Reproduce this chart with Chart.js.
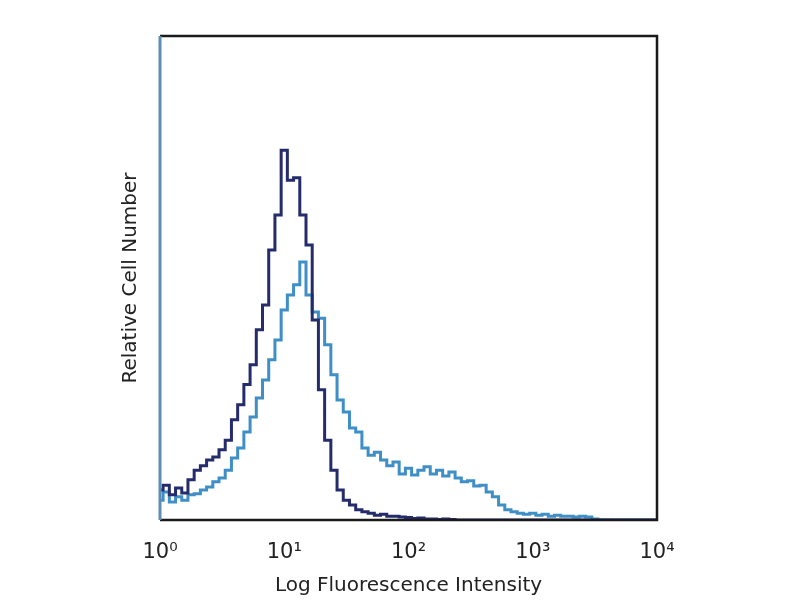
<!DOCTYPE html>
<html>
<head>
<meta charset="utf-8">
<script src="https://cdn.jsdelivr.net/npm/chart.js@4"></script>
<style>
  html, body { margin: 0; padding: 0; background: #fff; }
  #wrap { width: 800px; height: 600px; }
</style>
</head>
<body>
<div id="wrap"><canvas id="histo" width="800" height="600"></canvas></div>
<script>
// fluorescence channels, 20 per decade
const channels = [
  1.000, 1.122, 1.259, 1.413, 1.585, 1.778, 1.995, 2.239, 2.512, 2.818,
  3.162, 3.548, 3.981, 4.467, 5.012, 5.623, 6.310, 7.079, 7.943, 8.913,
  10.00, 11.22, 12.59, 14.13, 15.85, 17.78, 19.95, 22.39, 25.12, 28.18,
  31.62, 35.48, 39.81, 44.67, 50.12, 56.23, 63.10, 70.79, 79.43, 89.13,
  100.0, 112.2, 125.9, 141.3, 158.5, 177.8, 199.5, 223.9, 251.2, 281.8,
  316.2, 354.8, 398.1, 446.7, 501.2, 562.3, 631.0, 707.9, 794.3, 891.3,
  1000, 1122, 1259, 1413, 1585, 1778, 1995, 2239, 2512, 2818,
  3162, 3548, 3981, 4467, 5012, 5623, 6310, 7079, 7943, 8913,
  10000
];

// isotype control (dark)
const isotypeCounts = [
  6.2, 7.2, 5.2, 6.6, 5.6, 8.3, 10.3, 11.2, 12.4, 13.0,
  14.5, 16.5, 20.7, 23.8, 28.0, 32.1, 39.3, 44.4, 55.8, 63.0,
  76.4, 70.2, 70.7, 63.0, 56.8, 41.3, 26.9, 16.5, 10.3, 6.2,
  4.1, 3.1, 2.1, 1.7, 1.4, 1.0, 1.2, 0.8, 0.8, 0.6,
  0.5, 0.3, 0.4, 0.2, 0.2, 0.1, 0.2, 0.1, 0, 0,
  0, 0, 0, 0, 0, 0, 0, 0, 0, 0,
  0, 0, 0, 0, 0, 0, 0, 0, 0, 0,
  0, 0, 0, 0, 0, 0, 0, 0, 0, 0,
  0
];

// stained sample (light blue)
const stainedCounts = [
  4.1, 5.8, 3.7, 4.8, 4.1, 5.2, 5.4, 6.2, 6.8, 7.9,
  8.7, 10.3, 12.8, 14.9, 18.2, 21.3, 25.2, 28.9, 33.1, 37.2,
  43.4, 46.5, 48.6, 53.3, 46.5, 43.0, 41.7, 36.2, 30.0, 24.8,
  22.3, 19.0, 18.2, 14.9, 13.4, 14.0, 12.4, 11.2, 12.0, 9.5,
  10.7, 9.3, 10.3, 11.0, 9.5, 10.3, 9.1, 9.9, 8.7, 7.9,
  8.1, 7.0, 7.2, 5.8, 4.8, 3.1, 2.1, 1.7, 1.4, 1.2,
  1.4, 1.0, 1.2, 0.8, 1.0, 0.8, 0.8, 0.6, 0.8, 0.6,
  0.2, 0, 0, 0, 0, 0, 0, 0, 0, 0,
  0
];

const decadeTicks = [1, 10, 100, 1000, 10000];
const decadeLabels = ["10⁰", "10¹", "10²", "10³", "10⁴"];

const toPoints = (counts) => channels.map((c, i) => ({ x: c, y: counts[i] }));

// box around the plot, left edge in blue like the original
const framePlugin = {
  id: "frame",
  afterDatasetsDraw(chart) {
    const { ctx, chartArea: a } = chart;
    ctx.save();
    ctx.lineWidth = 2.5;
    ctx.strokeStyle = "#1a1a1a";
    ctx.beginPath();
    ctx.moveTo(a.left, a.top);
    ctx.lineTo(a.right, a.top);
    ctx.lineTo(a.right, a.bottom);
    ctx.lineTo(a.left, a.bottom);
    ctx.stroke();
    ctx.strokeStyle = "#5b8db8";
    ctx.lineWidth = 3;
    ctx.beginPath();
    ctx.moveTo(a.left, a.top);
    ctx.lineTo(a.left, a.bottom);
    ctx.stroke();
    ctx.restore();
  }
};

new Chart(document.getElementById("histo"), {
  type: "line",
  data: {
    datasets: [
      {
        label: "Isotype",
        data: toPoints(isotypeCounts),
        borderColor: "#252c6c",
        borderWidth: 3,
        stepped: "middle",
        pointRadius: 0,
        fill: false
      },
      {
        label: "Stained",
        data: toPoints(stainedCounts),
        borderColor: "#3f8fc6",
        borderWidth: 3,
        stepped: "middle",
        pointRadius: 0,
        fill: false
      }
    ]
  },
  options: {
    responsive: false,
    animation: false,
    layout: { padding: { top: 36, right: 143, left: 116, bottom: 0 } },
    plugins: {
      legend: { display: false },
      tooltip: { enabled: false }
    },
    scales: {
      x: {
        type: "logarithmic",
        min: 1,
        max: 10000,
        grid: { display: false, drawTicks: false },
        border: { display: false },
        afterBuildTicks: (scale) => {
          scale.ticks = decadeTicks.map((v) => ({ value: v }));
        },
        afterFit: (scale) => { scale.height = 80; },
        ticks: {
          autoSkip: false,
          maxRotation: 0,
          padding: 20,
          color: "#222",
          font: { family: "DejaVu Sans", size: 21 },
          callback: (v) => decadeLabels[decadeTicks.indexOf(v)]
        },
        title: {
          display: true,
          text: "Log Fluorescence Intensity",
          color: "#222",
          font: { family: "DejaVu Sans", size: 20 },
          padding: { top: 0, bottom: 2 }
        }
      },
      y: {
        min: 0,
        max: 100,
        grid: { display: false, drawTicks: false },
        border: { display: false },
        ticks: { display: false },
        afterFit: (scale) => { scale.width = 44; },
        title: {
          display: true,
          text: "Relative Cell Number",
          color: "#222",
          font: { family: "DejaVu Sans", size: 20 },
          padding: { top: 3, bottom: 4 }
        }
      }
    }
  },
  plugins: [framePlugin]
});
</script>
</body>
</html>
